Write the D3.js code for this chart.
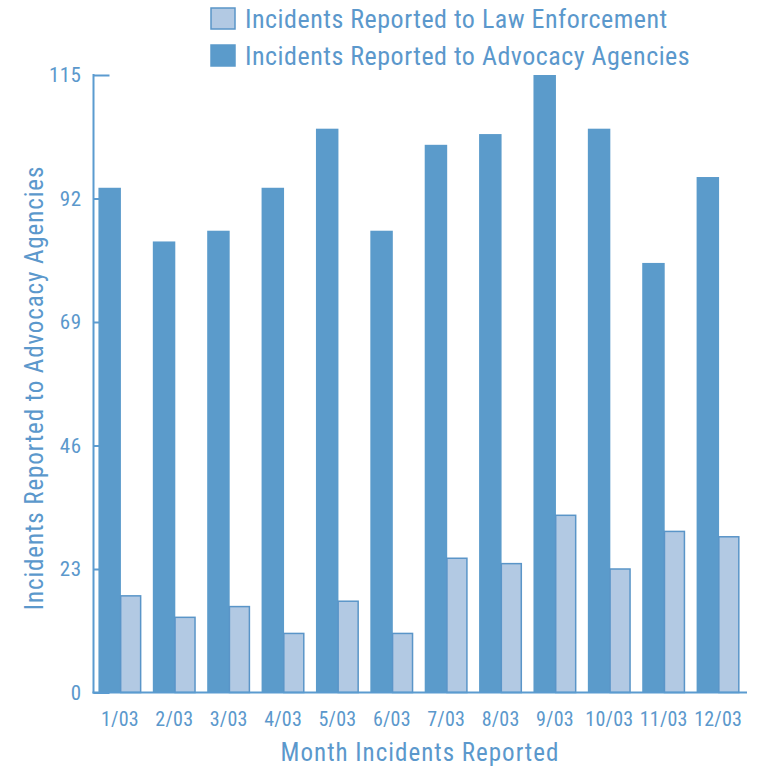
<!DOCTYPE html>
<html>
<head>
<meta charset="utf-8">
<script src="https://cdn.jsdelivr.net/npm/d3@7"></script>
<style>
  html, body { margin: 0; padding: 0; background: #ffffff; }
  svg { display: block; }
  text { font-family: "Liberation Sans Narrow", "Roboto Condensed", "Roboto", sans-serif; fill: #5b98cc; }
</style>
</head>
<body>
<svg id="chart" width="758" height="770"></svg>
<script>
// Monthly incident counts, 2003
const months = ["1/03", "2/03", "3/03", "4/03", "5/03", "6/03", "7/03", "8/03", "9/03", "10/03", "11/03", "12/03"];
const advocacyAgencies = [94, 84, 86, 94, 105, 86, 102, 104, 115, 105, 80, 96];
const lawEnforcement = [18, 14, 16, 11, 17, 11, 25, 24, 33, 23, 30, 29];
const yTicks = [0, 23, 46, 69, 92, 115];
const seriesNames = ["Incidents Reported to Law Enforcement", "Incidents Reported to Advocacy Agencies"];

const colors = {
  advocacy: "#5b9bcb",
  law: "#b2c9e3",
  lawStroke: "#5a95c8",
  axis: "#5b9bd0"
};

const svg = d3.select("#chart");

const x0 = d3.scaleBand().domain(months).range([93, 745]).paddingInner(0.21).paddingOuter(0.1);
const x1 = d3.scaleBand().domain(["advocacy", "law"]).range([0, x0.bandwidth()]);
const y = d3.scaleLinear().domain([0, 115]).range([692.5, 75]);

// Tick marks point inward and sit behind the bars
const yAxis = d3.axisLeft(y).tickValues(yTicks).tickSizeInner(-16).tickSizeOuter(0).tickPadding(12);
const gy = svg.append("g").attr("transform", "translate(93.5,0)").call(yAxis);
gy.select(".domain").remove();
gy.selectAll(".tick line").attr("stroke", colors.axis).attr("stroke-width", 2);
gy.selectAll(".tick text").attr("font-size", 21).attr("letter-spacing", 0.5).style("fill", "#5b98cc");

// Bars
const groups = svg.append("g").selectAll("g")
  .data(months.map((m, i) => ({ month: m, advocacy: advocacyAgencies[i], law: lawEnforcement[i] })))
  .join("g")
  .attr("transform", d => `translate(${x0(d.month)},0)`);

groups.append("rect")
  .attr("x", x1("advocacy"))
  .attr("width", x1.bandwidth() + 1)
  .attr("y", d => y(d.advocacy))
  .attr("height", d => y(0) - y(d.advocacy))
  .attr("fill", colors.advocacy);

groups.append("rect")
  .attr("x", x1("law") + 0.75)
  .attr("width", x1.bandwidth() - 1.5)
  .attr("y", d => y(d.law))
  .attr("height", d => y(0) - y(d.law))
  .attr("fill", colors.law)
  .attr("stroke", colors.lawStroke)
  .attr("stroke-width", 1.5);

// Axis lines
svg.append("line").attr("x1", 93.5).attr("x2", 93.5).attr("y1", 74).attr("y2", 693.5)
  .attr("stroke", colors.axis).attr("stroke-width", 2);
svg.append("line").attr("x1", 92.5).attr("x2", 747).attr("y1", 692.5).attr("y2", 692.5)
  .attr("stroke", colors.axis).attr("stroke-width", 2);

// Month labels
const xAxis = d3.axisBottom(x0).tickSize(0).tickPadding(19);
const gx = svg.append("g").attr("transform", "translate(0,692.5)").call(xAxis);
gx.select(".domain").remove();
gx.selectAll(".tick text").attr("font-size", 20).attr("letter-spacing", 0.2).style("fill", "#5b98cc");

// Axis titles
svg.append("text")
  .attr("x", 420).attr("y", 761)
  .attr("text-anchor", "middle")
  .attr("font-size", 25)
  .attr("letter-spacing", 1)
  .text("Month Incidents Reported");

svg.append("text")
  .attr("transform", "translate(43,388) rotate(-90)")
  .attr("text-anchor", "middle")
  .attr("font-size", 25)
  .attr("letter-spacing", 0.9)
  .text("Incidents Reported to Advocacy Agencies");

// Legend
const legend = svg.append("g");
const legendItems = [
  { name: seriesNames[0], fill: colors.law, stroke: colors.lawStroke, y: 8 },
  { name: seriesNames[1], fill: colors.advocacy, stroke: colors.advocacy, y: 45 }
];
legendItems.forEach(item => {
  legend.append("rect")
    .attr("x", 211).attr("y", item.y)
    .attr("width", 24).attr("height", 21)
    .attr("fill", item.fill)
    .attr("stroke", item.stroke).attr("stroke-width", 1.5);
  legend.append("text")
    .attr("x", 245).attr("y", item.y + 20)
    .attr("font-size", 26)
    .attr("letter-spacing", 0.5)
    .text(item.name);
});
</script>
</body>
</html>
